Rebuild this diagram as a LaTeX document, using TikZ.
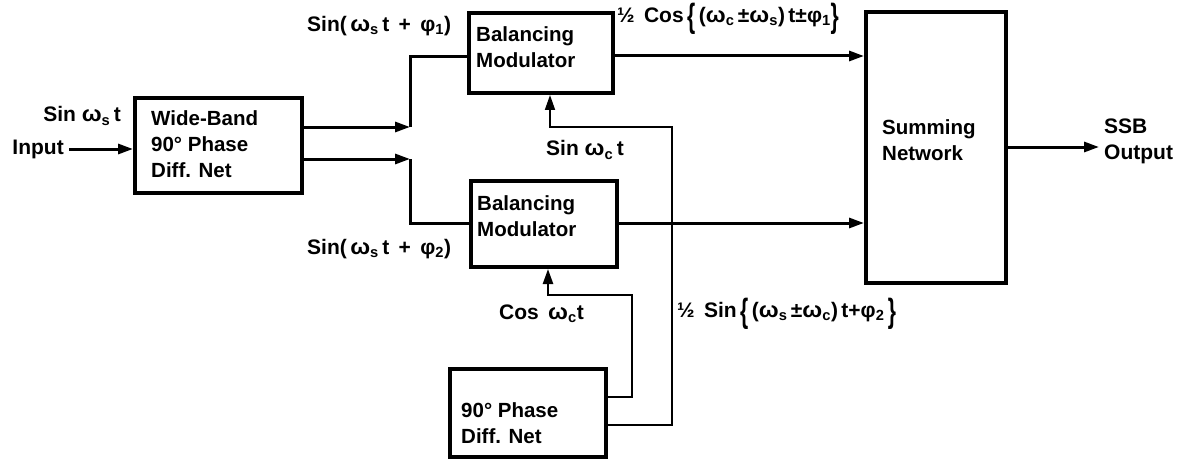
\documentclass[tikz,border=0pt]{standalone}
\usepackage{fontspec}
\setmainfont{Liberation Sans}
\usepackage{graphicx}
\usetikzlibrary{arrows.meta}
\newcommand\sbs[1]{\textsubscript{#1}}
\newcommand\bbr[1]{\raisebox{-0.5ex}{\scalebox{1}[1.6]{#1}}}
\newcommand\om{\scalebox{1.12}[1.05]{ω}}
\tikzset{
  box/.style={draw, line width=4pt, inner sep=0pt},
  txt/.style={font=\fontsize{20.5}{26}\selectfont\bfseries, inner sep=0pt, align=left},
  lab/.style={font=\fontsize{21}{26}\selectfont\bfseries, inner sep=0pt, align=left},
  conn/.style={line width=3pt},
  thinconn/.style={line width=1.8pt},
  arr/.style={-{Triangle[length=15pt,width=10pt]}}
}
\begin{document}
\begin{tikzpicture}[x=1pt,y=-1pt]
\useasboundingbox (0,0) rectangle (1187,460);
% boxes
\node[box, minimum width=167pt, minimum height=95pt] (wb) at (218.5,145.5) {};
\node[box, minimum width=144pt, minimum height=80pt] (bm1) at (541,53) {};
\node[box, minimum width=146pt, minimum height=86pt] (bm2) at (544,224) {};
\node[box, minimum width=140pt, minimum height=271pt] (sum) at (936,147.5) {};
\node[box, minimum width=156pt, minimum height=88pt] (pd) at (528,413) {};
% box texts
\node[txt, anchor=west] (wbt) at (151,144) {Wide-Band\\90° Phase\\Diff. Net};
\node[txt, anchor=west] (bm1t) at (476,47) {Balancing\\Modulator};
\node[txt, anchor=west] (bm2t) at (477,216) {Balancing\\Modulator};
\node[txt, anchor=west] (sumt) at (882,140) {Summing\\Network};
\node[txt, anchor=west] (pdt) at (461,423) {90° Phase\\Diff. Net};
% labels
\node[lab, anchor=east] (sinin) at (121,116) {Sin \om\sbs{s}\,t};
\node[lab, anchor=east, inner xsep=5pt] (inp) at (69,149) {Input};
\node[lab, anchor=west] (l1) at (307,26) {Sin(\,\om\sbs{s}\,t \,+\, φ\sbs{1})};
\node[lab, anchor=west] (l2) at (307,249) {Sin(\,\om\sbs{s}\,t \,+\, φ\sbs{2})};
\node[lab, anchor=west] (l3) at (617,19) {½ \,Cos\,\bbr{\{}\,(\om\sbs{c}\,±\om\sbs{s})\,t±φ\sbs{1}\bbr{\}}};
\node[lab, anchor=west] (l4) at (546,150) {Sin \om\sbs{c}\,t};
\node[lab, anchor=west] (l5) at (499,314) {Cos \,\om\sbs{c}t};
\node[lab, anchor=west] (l6) at (677,314) {½ \,Sin\,\bbr{\{}\,(\om\sbs{s}\,±\om\sbs{c})\,t+φ\sbs{2}\,\bbr{\}}};
\node[lab, anchor=west] (outl) at (1104,141) {SSB\\Output};
% coordinates
\coordinate (c1) at (410,127);
\coordinate (c1b) at (410,57);
\coordinate (c2) at (410,159);
\coordinate (c2b) at (410,223);
\coordinate (o1) at (1099,147);
\coordinate (s1) at (672,425);
\coordinate (s2) at (672,127);
\coordinate (s3) at (550,127);
\coordinate (k1) at (632,397);
\coordinate (k2) at (632,295);
\coordinate (k3) at (548,295);
% connectors
\draw[conn, arr] (inp.east) -- (inp.east -| wb.west);
\draw[conn, arr] (wb.east |- c1) -- (c1);
\draw[conn] (c1) -- (c1b) -- (c1b -| bm1.west);
\draw[conn, arr] (wb.east |- c2) -- (c2);
\draw[conn] (c2) -- (c2b) -- (c2b -| bm2.west);
\draw[conn, arr] (bm1.east |- 0,56) -- (sum.west |- 0,56);
\draw[conn, arr] (bm2.east |- c2b) -- (sum.west |- c2b);
\draw[conn, arr] (sum.east |- o1) -- (o1);
\draw[thinconn, arr] (pd.east |- s1) -- (s1) -- (s2) -- (s3) -- (s3 |- bm1.south);
\draw[conn, line width=2.4pt, arr] (pd.east |- k1) -- (k1) -- (k2) -- (k3) -- (k3 |- bm2.south);
\end{tikzpicture}
\end{document}
